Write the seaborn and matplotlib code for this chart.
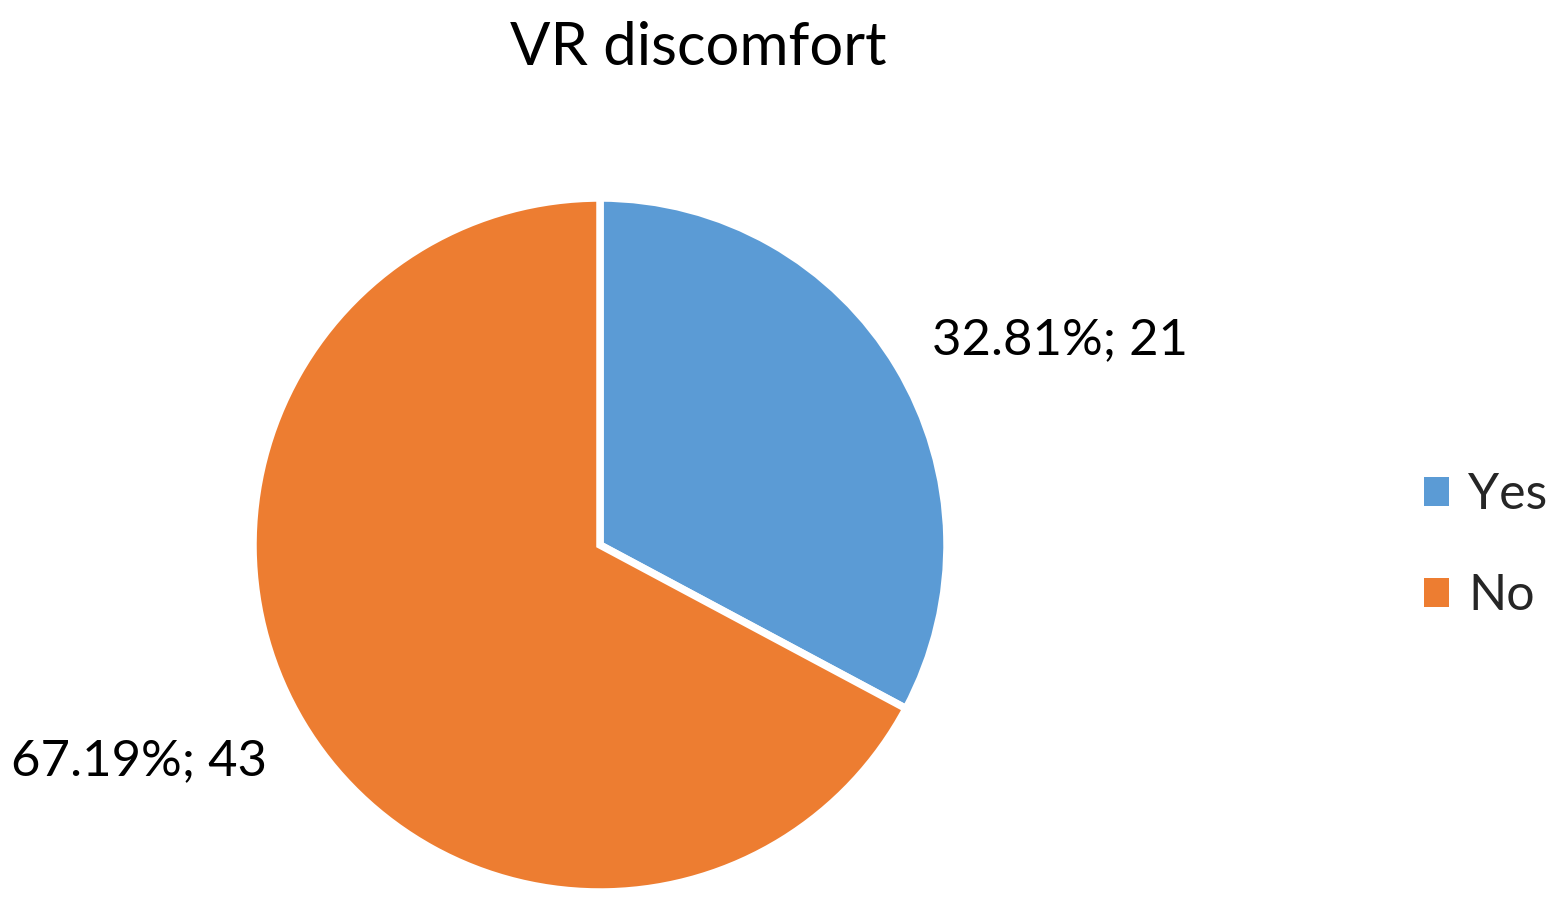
import matplotlib
matplotlib.use("Agg")
import matplotlib.pyplot as plt
import seaborn as sns
from matplotlib.patches import Patch

# data
categories = ["Yes", "No"]
counts = [21, 43]
colors = ["#5B9BD5", "#ED7D31"]

sns.set_theme(style="white")
plt.rcParams['font.family'] = ['Lato', 'DejaVu Sans']

fig = plt.figure(figsize=(15.6, 9.11), dpi=100)
# pie axes: center ~ (600, 545) px, radius ~347 px (white edge eats a few px)
cx, cy, r = 600, 545, 347
ax = fig.add_axes([(cx - r) / 1560, (911 - cy - r) / 911, 2 * r / 1560, 2 * r / 911])
wedges, _ = ax.pie(counts, colors=colors, startangle=90, counterclock=False,
                   radius=1, wedgeprops=dict(edgecolor="white", linewidth=5.4))
ax.set_xlim(-1, 1)
ax.set_ylim(-1, 1)
ax.set_aspect("equal")
ax.axis("off")

total = sum(counts)
labels = [f"{c / total * 100:.2f}%; {c}" for c in counts]
ax.text(1.326, 0.549, labels[0], ha="center", va="baseline", fontsize=36.5, color="black")
ax.text(-1.329, -0.663, labels[1], ha="center", va="baseline", fontsize=36.5, color="black")

fig.text(698 / 1560, 1 - 65 / 911, "VR discomfort", ha="center", va="baseline",
         fontsize=43, color="black")

handles = [Patch(facecolor=c, edgecolor="none") for c in colors]
fig.legend(handles, categories, loc="center left", bbox_to_anchor=(1424 / 1560, 0.4007),
           frameon=False, fontsize=36, handlelength=0.5, handleheight=0.5,
           handletextpad=0.38, labelspacing=1.1, borderpad=0, borderaxespad=0)

fig.savefig("out.png", dpi=100)
